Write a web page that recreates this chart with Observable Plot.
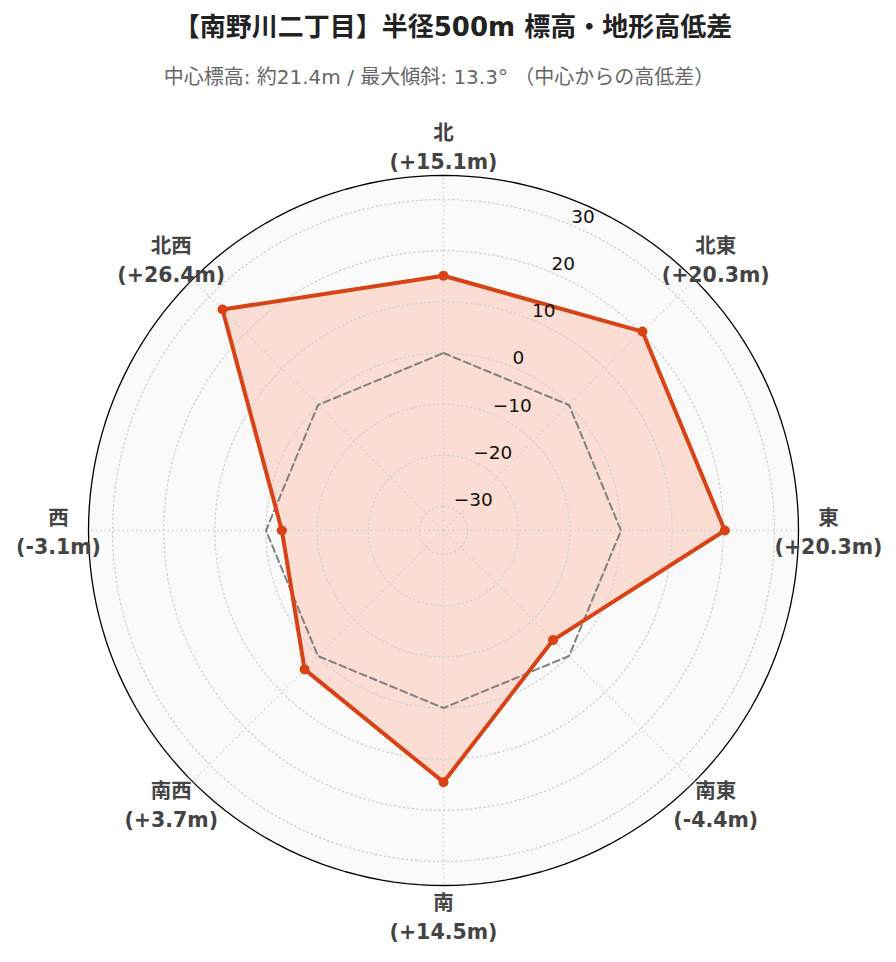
<!DOCTYPE html>
<html>
<head>
<meta charset="utf-8">
<script src="https://cdn.jsdelivr.net/npm/d3@7"></script>
<script src="https://cdn.jsdelivr.net/npm/@observablehq/plot@0.6"></script>
<style>
  html, body { margin: 0; padding: 0; background: #fff; }
  body { width: 896px; font-family: "DejaVu Sans", "Noto Sans CJK JP", sans-serif; }
  #title { height: 54px; line-height: 54px; text-align: center; font-size: 26px; font-weight: bold; color: #222; padding-left: 10px; box-sizing: border-box; white-space: nowrap; }
  #subtitle { height: 46px; line-height: 46px; text-align: center; font-size: 20px; color: #666; padding-right: 18px; box-sizing: border-box; white-space: nowrap; }
  #chart svg { display: block; }
</style>
</head>
<body>
<div id="title">【南野川二丁目】半径500m 標高・地形高低差</div>
<div id="subtitle">中心標高: 約21.4m / 最大傾斜: 13.3° （中心からの高低差）</div>
<div id="chart"></div>
<script>
// ---- data ----
const directions = ["北", "北東", "東", "南東", "南", "南西", "西", "北西"];
const elevDiff = [15.1, 20.3, 20.3, -4.4, 14.5, 3.7, -3.1, 26.4];
const referenceLevel = [0, 0, 0, 0, 0, 0, 0, 0];
const radialTicks = [-30, -20, -10, 0, 10, 20, 30];
const radialRange = [-34.7, 34.7];

// ---- polar helpers ----
const rMin = radialRange[0], rMax = radialRange[1];
const span = rMax - rMin;
const angleOf = (i) => (i * 360 / directions.length) * Math.PI / 180;
const polar = (v, theta) => ({x: (v - rMin) * Math.sin(theta), y: (v - rMin) * Math.cos(theta)});

const closed = (arr) => arr.concat([arr[0]]);
const series = closed(elevDiff.map((v, i) => ({...polar(v, angleOf(i)), dir: directions[i], v})));
const refLine = closed(referenceLevel.map((v, i) => polar(v, angleOf(i))));
const circlePts = (v) => d3.range(0, 361, 2).map(a => polar(v, a * Math.PI / 180));
const gridCircles = radialTicks.flatMap(t => circlePts(t).map(p => ({...p, t})));
const spokes = directions.map((d, i) => { const p = polar(rMax, angleOf(i)); return {x1: 0, y1: 0, x2: p.x, y2: p.y}; });
const fmtVal = (v) => `(${v > 0 ? "+" : ""}${v.toFixed(1)}m)`;
const labelR = rMax + span * 30 / 355;
const angLabels = directions.map((d, i) => ({...polar(labelR, angleOf(i)), text: `${d}\n${fmtVal(elevDiff[i])}`}));
const tickAngle = 22.5 * Math.PI / 180;
const tickLabels = radialTicks.map(t => ({...polar(t, tickAngle), text: String(t).replace("-", "\u2212")}));

const R = 355, cx = 443, cy = 430;
const chart = Plot.plot({
  width: 896,
  height: 862,
  margin: 0,
  x: {domain: [-span, span], range: [cx - R, cx + R], axis: null},
  y: {domain: [-span, span], range: [cy + R, cy - R], axis: null},
  style: {fontFamily: "\"DejaVu Sans\", \"Noto Sans CJK JP\", sans-serif"},
  marks: [
    // background disc
    Plot.line(circlePts(rMax), {x: "x", y: "y", fill: "#fafafa", stroke: "none"}),
    // data fill
    Plot.line(series, {x: "x", y: "y", fill: "rgb(255,87,34)", fillOpacity: 0.18, stroke: "none"}),
    // grid
    Plot.line(gridCircles, {x: "x", y: "y", z: "t", stroke: "#cfd3d8", strokeWidth: 1.3, strokeDasharray: "1.5,3"}),
    Plot.link(spokes, {x1: "x1", y1: "y1", x2: "x2", y2: "y2", stroke: "#cfd3d8", strokeWidth: 1.3, strokeDasharray: "1.5,3"}),
    // outer circle
    Plot.line(circlePts(rMax), {x: "x", y: "y", stroke: "#000", strokeWidth: 1.3}),
    // reference (0m) line
    Plot.line(refLine, {x: "x", y: "y", stroke: "#808080", strokeWidth: 2, strokeDasharray: "7,4"}),
    // data line + points
    Plot.line(series, {x: "x", y: "y", stroke: "#d84315", strokeWidth: 4, strokeLinejoin: "miter"}),
    Plot.dot(series.slice(0, -1), {x: "x", y: "y", r: 5, fill: "#d84315", stroke: "none"}),
    // radial tick labels
    Plot.text(tickLabels, {x: "x", y: "y", text: "text", textAnchor: "start", dx: 1, dy: -8, fontSize: 18.5, fill: "#111"}),
    // angular labels
    Plot.text(angLabels, {x: "x", y: "y", text: "text", fontSize: 20.5, fontWeight: "bold", fill: "#444", lineHeight: 1.42})
  ]
});
document.getElementById("chart").appendChild(chart);
</script>
</body>
</html>
